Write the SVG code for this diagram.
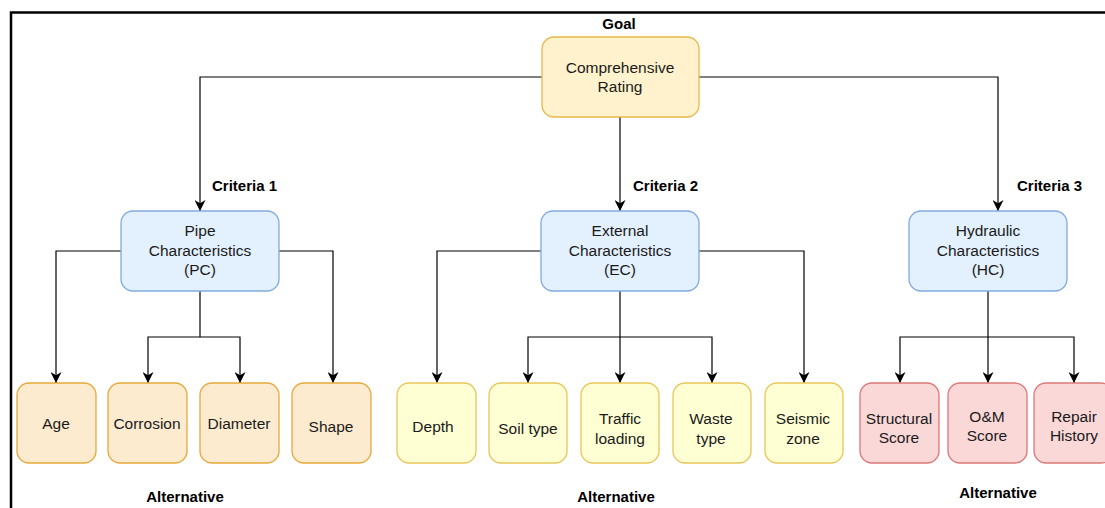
<svg xmlns="http://www.w3.org/2000/svg" width="1105" height="508" viewBox="0 0 1105 508">
<defs>
<marker id="arr" viewBox="0 0 10 10" refX="10" refY="5" markerWidth="11" markerHeight="11" markerUnits="userSpaceOnUse" orient="auto">
<path d="M0,0 L10,5 L0,10 L3,5 Z" fill="#000"/>
</marker>
<style>
.t{font-family:"Liberation Sans",Arial,sans-serif;font-size:15.5px;fill:#1a1a1a;text-anchor:middle}
.b{font-family:"Liberation Sans",Arial,sans-serif;font-size:15px;font-weight:bold;fill:#000}
.goal{fill:#fff2cc;stroke:#e8b84a;stroke-width:1.3}
.crit{fill:#e3f0fd;stroke:#82aae0;stroke-width:1.3}
.alt1{fill:#fdebd0;stroke:#e6a93a;stroke-width:1.3}
.alt2{fill:#ffffd4;stroke:#e8c659;stroke-width:1.3}
.alt3{fill:#fbd8d8;stroke:#dc7878;stroke-width:1.3}
.c{fill:none;stroke:#000;stroke-width:1.2;marker-end:url(#arr)}
.l{fill:none;stroke:#000;stroke-width:1.2}
</style>
</defs>
<rect width="1105" height="508" fill="#fff"/>
<path d="M11,520 L11,12.5 L1120,12.5" fill="none" stroke="#000" stroke-width="2.5"/>

<g id="labels">
<text class="b" x="619" y="29" text-anchor="middle">Goal</text>
<text class="b" x="212" y="191">Criteria 1</text>
<text class="b" x="633" y="191">Criteria 2</text>
<text class="b" x="1017" y="191">Criteria 3</text>
<text class="b" x="185" y="502" text-anchor="middle">Alternative</text>
<text class="b" x="616" y="502" text-anchor="middle">Alternative</text>
<text class="b" x="998" y="498" text-anchor="middle">Alternative</text>
</g>

<g id="connectors">
<path class="c" d="M542,77 H200 V211"/>
<path class="c" d="M620,117 V211"/>
<path class="c" d="M699,77 H998 V211"/>
<path class="c" d="M121,251 H56 V383"/>
<path class="c" d="M279,251 H333 V383"/>
<path class="l" d="M200,291 V337"/>
<path class="c" d="M200,337 H148 V383"/>
<path class="c" d="M200,337 H240 V383"/>
<path class="c" d="M541,251 H437 V383"/>
<path class="c" d="M699,251 H804 V383"/>
<path class="c" d="M620,291 V383"/>
<path class="c" d="M620,337 H528 V383"/>
<path class="c" d="M620,337 H712 V383"/>
<path class="c" d="M988,291 V383"/>
<path class="c" d="M988,337 H900 V383"/>
<path class="c" d="M988,337 H1074 V383"/>
</g>

<g id="goal"><rect class="goal" x="542" y="37" width="157" height="80" rx="12"/>
<text class="t" x="620" y="73">Comprehensive</text><text class="t" x="620" y="92">Rating</text></g>

<g id="pc"><rect class="crit" x="121" y="211" width="158" height="80" rx="12"/>
<text class="t" x="200" y="236">Pipe</text><text class="t" x="200" y="256">Characteristics</text><text class="t" x="200" y="275">(PC)</text></g>
<g id="ec"><rect class="crit" x="541" y="211" width="158" height="80" rx="12"/>
<text class="t" x="620" y="236">External</text><text class="t" x="620" y="256">Characteristics</text><text class="t" x="620" y="275">(EC)</text></g>
<g id="hc"><rect class="crit" x="909" y="211" width="158" height="80" rx="12"/>
<text class="t" x="988" y="236">Hydraulic</text><text class="t" x="988" y="256">Characteristics</text><text class="t" x="988" y="275">(HC)</text></g>

<g id="age"><rect class="alt1" x="17" y="383" width="79" height="80" rx="12"/><text class="t" x="56" y="429">Age</text></g>
<g id="corrosion"><rect class="alt1" x="108" y="383" width="79" height="80" rx="12"/><text class="t" x="147" y="429">Corrosion</text></g>
<g id="diameter"><rect class="alt1" x="200" y="383" width="79" height="80" rx="12"/><text class="t" x="239" y="429">Diameter</text></g>
<g id="shape"><rect class="alt1" x="292" y="383" width="79" height="80" rx="12"/><text class="t" x="331" y="432">Shape</text></g>

<g id="depth"><rect class="alt2" x="397" y="383" width="79" height="80" rx="12"/><text class="t" x="433" y="432">Depth</text></g>
<g id="soil"><rect class="alt2" x="489" y="383" width="78" height="80" rx="12"/><text class="t" x="528" y="434">Soil type</text></g>
<g id="traffic"><rect class="alt2" x="581" y="383" width="78" height="80" rx="12"/><text class="t" x="620" y="424">Traffic</text><text class="t" x="620" y="444">loading</text></g>
<g id="waste"><rect class="alt2" x="673" y="383" width="78" height="80" rx="12"/><text class="t" x="711" y="424">Waste</text><text class="t" x="711" y="444">type</text></g>
<g id="seismic"><rect class="alt2" x="765" y="383" width="78" height="80" rx="12"/><text class="t" x="803" y="424">Seismic</text><text class="t" x="803" y="444">zone</text></g>

<g id="structural"><rect class="alt3" x="860" y="383" width="79" height="80" rx="12"/><text class="t" x="899" y="424">Structural</text><text class="t" x="899" y="443">Score</text></g>
<g id="om"><rect class="alt3" x="948" y="383" width="79" height="80" rx="12"/><text class="t" x="987" y="422">O&amp;M</text><text class="t" x="987" y="441">Score</text></g>
<g id="repair"><rect class="alt3" x="1034" y="383" width="79" height="80" rx="12"/><text class="t" x="1074" y="422">Repair</text><text class="t" x="1074" y="441">History</text></g>
</svg>
